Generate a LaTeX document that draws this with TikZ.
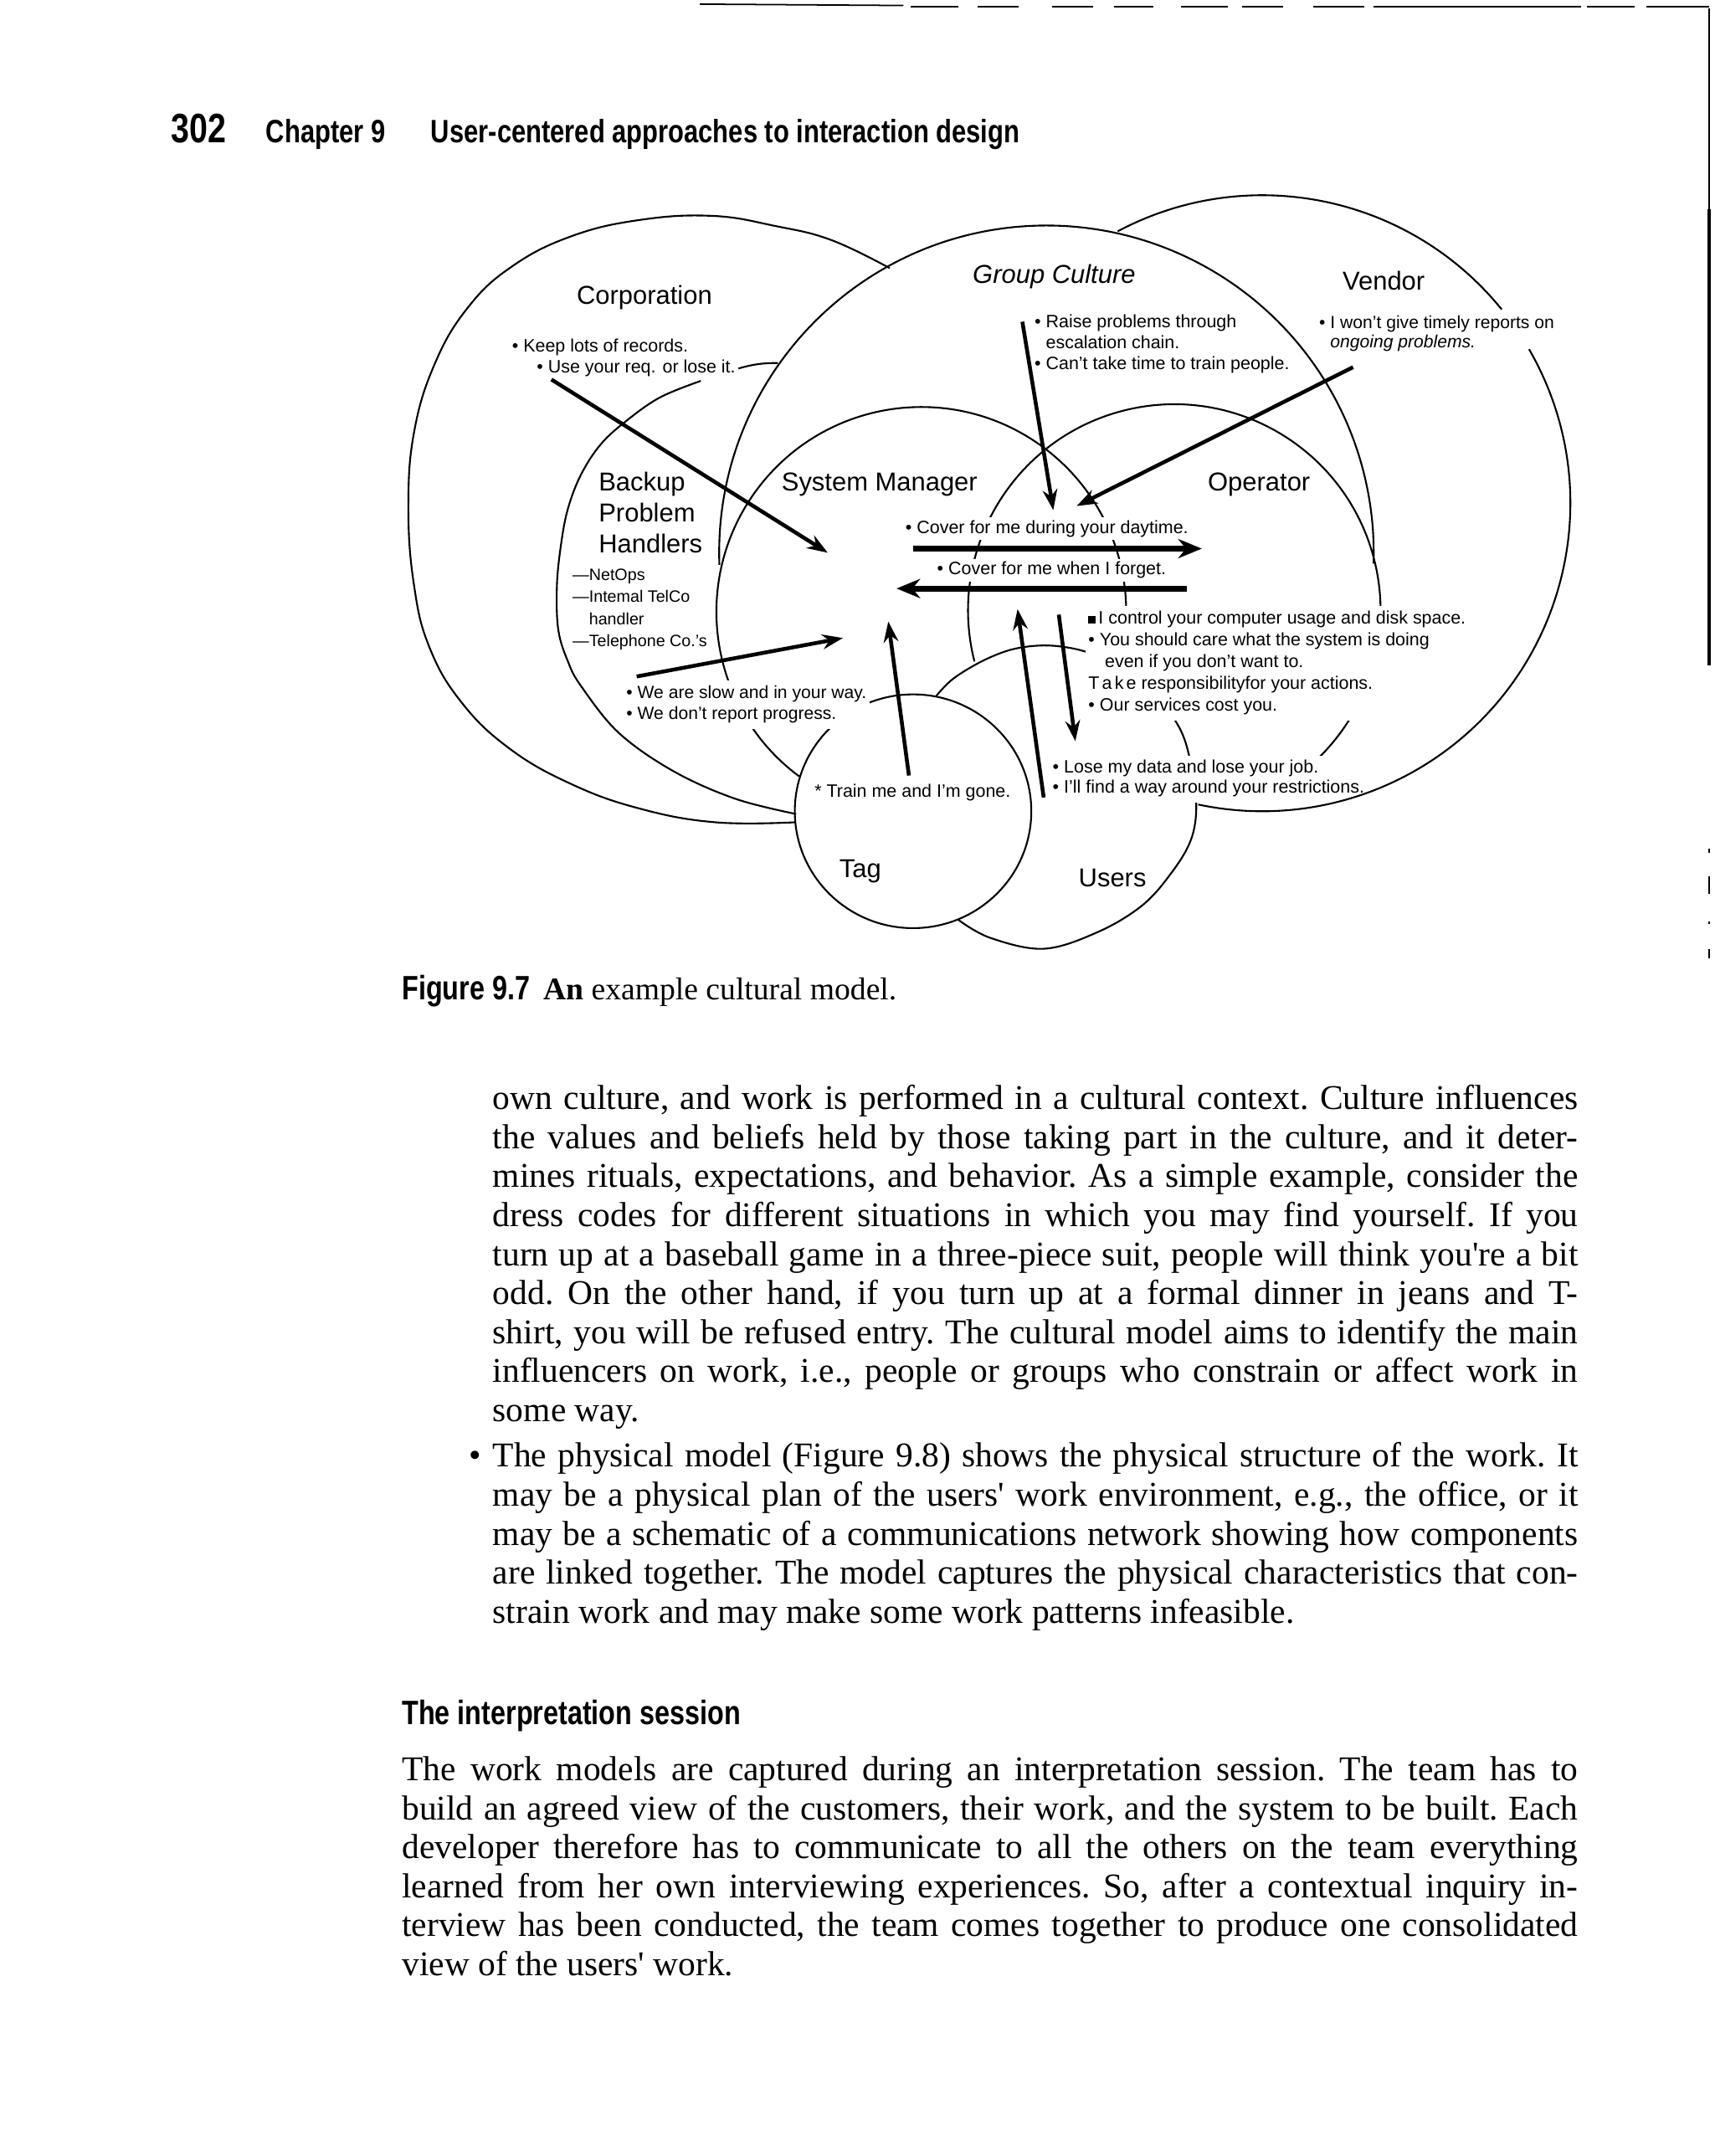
\documentclass[tikz,border=0pt]{standalone}
\usepackage{fontspec}
\setmainfont{Liberation Serif}
\setsansfont{Liberation Sans}
\newfontfamily\narrowsans[FakeStretch=0.8]{Liberation Sans}
\usetikzlibrary{arrows.meta}

\newcommand\stack[1]{\begin{tabular}[t]{@{}l@{}}#1\end{tabular}}
\newcommand\jline[1]{\makebox[\linewidth][s]{#1}\par}

\begin{document}
\begin{tikzpicture}[
  x=0.016423cm, y=-0.016423cm,
  outline/.style   = {line width=0.6pt},
  region/.style    = {font=\sffamily\fontsize{8.8}{10.5}\selectfont,
                      anchor=base west, inner sep=0pt},
  say/.style       = {font=\sffamily\fontsize{6.1}{7.3}\selectfont,
                      anchor=base west, inner sep=0pt},
  knockout/.style  = {fill=white, inner sep=1pt},
  push/.style      = {line width=1.3pt, -{Stealth[length=7pt,width=5pt]}},
  trade/.style     = {line width=2pt, -{Stealth[length=8pt,width=6.5pt]}},
  leader/.style    = {line width=0.6pt},
  body/.style      = {font=\fontsize{11.8}{13.25}\selectfont\frenchspacing,
                      anchor=base west, inner sep=0pt},
  runhead/.style   = {font=\narrowsans\bfseries\fontsize{11}{13}\selectfont,
                      anchor=base west, inner sep=0pt},
  scan/.style      = {line width=0.5pt},
]
\useasboundingbox (0,0) rectangle (1247,1568);

% scanner edge
\draw[scan] (509,3) -- (657,4);
\foreach \a/\b in {662/697, 711/741, 765/795, 810/839, 859/893, 903/933,
                   955/992, 999/1150, 1154/1189, 1197/1243}
  \draw[scan] (\a,5) -- (\b,5);
\draw[line width=0.6pt] (1243,6) -- (1243,152);
\draw[line width=1.1pt] (1243,152) -- (1243,484);
\foreach \a/\b in {617/620, 637/650, 670/672, 690/697}
  \draw[line width=0.6pt] (1243,\a) -- (1243,\b);

% running head
\node[runhead, font=\narrowsans\bfseries\fontsize{14}{16}\selectfont] (pageNo) at (124,104) {302};
\node[runhead] (chapNo) at (193,104) {Chapter 9};
\node[runhead] (chapTitle) at (313,104) {User-centered approaches to interaction design};

% centres of the round regions
\coordinate (gcC) at (761,402);
\coordinate (smC) at (670,445);
\coordinate (opC) at (854,444);
\coordinate (vendC) at (918,366);

% region outlines
\draw[outline] plot[smooth, tension=0.7] coordinates {
  (647,195) (604.6,174.6) (564,164.4) (518,157) (465,160) (415,172)
  (372,194) (340,224) (316,265) (301,315) (297,370) (301,425) (312,470)
  (335,510) (370,544) (415,570) (465,588) (520,598) (578.5,598)};
\draw[outline] (gcC) ++(177.9:238) arc[start angle=177.9, end angle=361.9, radius=238];
\draw[outline] plot[smooth, tension=0.6] coordinates {
  (509.7,277) (480,289) (455.6,306) (437,323) (422.6,345) (413,370) (408,396)
  (405,426) (406,458) (413,481) (422.6,499) (450,533) (490,561) (535,581) (579,592)};
\draw[outline] (smC) ++(126.6:149) arc[start angle=126.6, end angle=360, radius=149];
\draw[outline] (opC) ++(165.7:150) arc[start angle=165.7, end angle=410, radius=150];
\draw[outline] (664,590) ellipse[x radius=86, y radius=85];
\draw[outline] plot[smooth, tension=0.6] coordinates {
  (681,506) (694,493) (718,479) (742,471) (770,470) (800,478) (835,500)
  (857,528) (866,555) (870,585) (866,611) (851,636) (830,659) (798,678)
  (759,690) (720,682) (697,669)};

% region names
\node[region] (corpLbl) at (419,221) {Corporation};
\node[region] (gcLbl) at (707,206) {\itshape Group Culture};
\node[region] (vendLbl) at (976,211) {Vendor};
\node[region] (bphLbl) at (435,357) {\stack{Backup\\Problem\\Handlers}};
\node[region] (smLbl) at (568,357) {System Manager};
\node[region] (opLbl) at (878,357) {Operator};
\node[region] (tagLbl) at (610,638) {Tag};
\node[region] (usersLbl) at (784,645) {Users};

% what each group says
\node[say] (keepRec) at (372,256) {• Keep lots of records.};
\node[say] (useReq) at (390,271) {• Use your req. or lose it.};
\node[say, font=\sffamily\fontsize{6.1}{7.25}\selectfont] (gcSay) at (752,238)
  {\stack{• Raise problems through\\\phantom{• }escalation chain.\\• Can’t take time to train people.}};
\node[say, font=\sffamily\fontsize{6}{6.6}\selectfont] (vendSay) at (959,239)
  {\stack{• I won’t give timely reports on\\\phantom{• }\itshape ongoing problems.}};
\node[say, font=\sffamily\fontsize{5.6}{7.5}\selectfont] (bphList) at (416,422)
  {\stack{—NetOps\\—Intemal TelCo\\\phantom{—}handler\\—Telephone Co.’s}};
\node[say, knockout] (dayTxt) at (656,388) {• Cover for me during your daytime.};
\node[say, knockout] (forgetTxt) at (679,418) {• Cover for me when I forget.};
\node[say, knockout, font=\sffamily\fontsize{6}{7.2}\selectfont] (slowSay) at (453,508)
  {\stack{• We are slow and in your way.\\• We don’t report progress.}};
\node[say] (trainSay) at (592,580) {* Train me and I’m gone.};
\node[say, knockout, font=\sffamily\fontsize{6.1}{7.4}\selectfont] (opSay) at (789,454)
  {\stack{\rule[0.3pt]{2.4pt}{2.4pt}\,I control your computer usage and disk space.\\
          • You should care what the system is doing\\
          \hspace*{5.6pt}even if you don’t want to.\\
          T\kern0.9pt a\kern0.9pt k\kern0.9pt e responsibilityfor your actions.\\
          • Our services cost you.}};
\node[say, knockout, font=\sffamily\fontsize{6.1}{7}\selectfont] (loseSay) at (763,562)
  {\stack{• Lose my data and lose your job.\\• I’ll find a way around your restrictions.}};

% vendor outline, broken at its text
\draw[outline] (vendC) ++(-118:224) arc[start angle=-118, end angle=-39, radius=224];
\draw[outline] (vendC) ++(-30:224) arc[start angle=-30, end angle=102, radius=224];

% arrow ends
\coordinate (reqTail) at (401,276);   \coordinate (smIn) at (602,402);
\coordinate (gcTail) at (743.5,234);  \coordinate (hubA) at (766,371);
\coordinate (vendTail) at (984,267);  \coordinate (hubB) at (783,368);
\coordinate (dayTail) at (664,399);   \coordinate (dayTip) at (874,399);
\coordinate (forgetTail) at (863,428); \coordinate (forgetTip) at (652,428);
\coordinate (slowTail) at (463,492);  \coordinate (slowTip) at (613,464);
\coordinate (trainTail) at (661,564); \coordinate (trainTip) at (646,452);
\coordinate (usersTail) at (759,580); \coordinate (usersTip) at (740,443);
\coordinate (opTail) at (770,447);    \coordinate (opTip) at (782,539);
\coordinate (reqEnd) at (537,268);    \coordinate (gcEdge) at (565.7,264);

\draw[leader] (reqEnd) to[bend left=8] (gcEdge);
\draw[push] (reqTail) -- (smIn);
\draw[push] (gcTail) -- (hubA);
\draw[push] (vendTail) -- (hubB);
\draw[trade] (dayTail) -- (dayTip);
\draw[trade] (forgetTail) -- (forgetTip);
\draw[push] (slowTail) -- (slowTip);
\draw[push] (trainTail) -- (trainTip);
\draw[push] (usersTail) -- (usersTip);
\draw[push] (opTail) -- (opTip);

% caption
\node[body, font=\fontsize{10.7}{12}\selectfont] (caption) at (292,727)
  {{\narrowsans\bfseries\fontsize{11.5}{12}\selectfont Figure 9.7}\hspace{4.5pt}\textbf{An} example cultural model.};

% page text
\node[body] (paraCulture) at (358,807) {\parbox[t]{368.7pt}{%
  \jline{own culture, and work is performed in a cultural context. Culture influences}
  \jline{the values and beliefs held by those taking part in the culture, and it deter-}
  \jline{mines rituals, expectations, and behavior. As a simple example, consider the}
  \jline{dress codes for different situations in which you may find yourself. If you}
  \jline{turn up at a baseball game in a three-piece suit, people will think you\textquotesingle re a bit}
  \jline{odd. On the other hand, if you turn up at a formal dinner in jeans and T-}
  \jline{shirt, you will be refused entry. The cultural model aims to identify the main}
  \jline{influencers on work, i.e., people or groups who constrain or affect work in}
  some way.}};
\node[body] (bodyDot) at (341,1067) {•};
\node[body] (paraPhysical) at (358,1067) {\parbox[t]{368.7pt}{%
  \jline{The physical model (Figure 9.8) shows the physical structure of the work. It}
  \jline{may be a physical plan of the users\textquotesingle{} work environment, e.g., the office, or it}
  \jline{may be a schematic of a communications network showing how components}
  \jline{are linked together. The model captures the physical characteristics that con-}
  strain work and may make some work patterns infeasible.}};
\node[runhead, font=\narrowsans\bfseries\fontsize{11.5}{13}\selectfont] (sessionHead) at (292,1254)
  {The interpretation session};
\node[body] (paraSession) at (292,1295) {\parbox[t]{399.5pt}{%
  \jline{The work models are captured during an interpretation session. The team has to}
  \jline{build an agreed view of the customers, their work, and the system to be built. Each}
  \jline{developer therefore has to communicate to all the others on the team everything}
  \jline{learned from her own interviewing experiences. So, after a contextual inquiry in-}
  \jline{terview has been conducted, the team comes together to produce one consolidated}
  view of the users\textquotesingle{} work.}};
\end{tikzpicture}
\end{document}
